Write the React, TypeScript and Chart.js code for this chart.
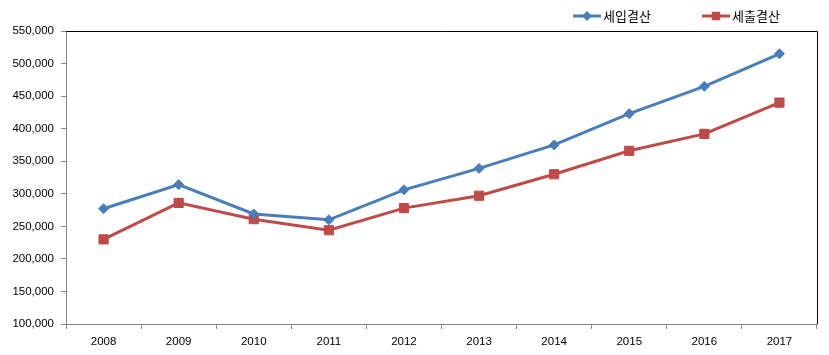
import React, { useEffect, useRef } from "react";
import { Chart, registerables } from "chart.js";

Chart.register(...registerables);

const years = ["2008", "2009", "2010", "2011", "2012", "2013", "2014", "2015", "2016", "2017"];
const revenue = [277000, 314000, 269000, 260000, 306000, 339000, 375000, 423000, 465000, 515000];
const expenditure = [230000, 286000, 261000, 244000, 278000, 297000, 330000, 366000, 392000, 440000];
const seriesNames = ["세입결산", "세출결산"];
const yMin = 100000;
const yMax = 550000;
const yStep = 50000;

const BLUE = "#4A7EBB";
const RED = "#BE4B48";
const AXIS = "#868686";

const frameAndLegend = {
  id: "frameAndLegend",
  afterDatasetsDraw(chart: any) {
    const { ctx, chartArea } = chart;
    ctx.save();
    ctx.strokeStyle = "#000";
    ctx.lineWidth = 1;
    ctx.beginPath();
    ctx.moveTo(chartArea.left, chartArea.top + 0.5);
    ctx.lineTo(chartArea.right + 0.5, chartArea.top + 0.5);
    ctx.lineTo(chartArea.right + 0.5, chartArea.bottom);
    ctx.stroke();

    // legend
    const items = [
      { x: 573, color: BLUE, style: "rectRot", r: 5, label: chart.data.datasets[0].label },
      { x: 702, color: RED, style: "rect", r: 6, label: chart.data.datasets[1].label },
    ];
    const y = 16;
    items.forEach((it) => {
      ctx.strokeStyle = it.color;
      ctx.lineWidth = 3;
      ctx.beginPath();
      ctx.moveTo(it.x, y);
      ctx.lineTo(it.x + 28, y);
      ctx.stroke();
      ctx.fillStyle = it.color;
      const cx = it.x + 14;
      ctx.beginPath();
      if (it.style === "rect") {
        const s = Math.SQRT1_2 * it.r;
        ctx.rect(cx - s, y - s, 2 * s, 2 * s);
      } else {
        ctx.moveTo(cx, y - it.r);
        ctx.lineTo(cx + it.r, y);
        ctx.lineTo(cx, y + it.r);
        ctx.lineTo(cx - it.r, y);
        ctx.closePath();
      }
      ctx.fill();
      ctx.fillStyle = "#000";
      ctx.font = '13px "Noto Sans CJK KR", sans-serif';
      ctx.textAlign = "left";
      ctx.textBaseline = "middle";
      ctx.fillText(it.label, it.x + 30, y);
    });
    ctx.restore();
  },
};

export default function App() {
  const ref = useRef<HTMLCanvasElement>(null);
  useEffect(() => {
    if (!ref.current) return;
    const chart = new Chart(ref.current, {
      type: "line",
      data: {
        labels: years,
        datasets: [
          {
            label: seriesNames[0],
            data: revenue,
            borderColor: BLUE,
            backgroundColor: BLUE,
            borderWidth: 3,
            pointStyle: "rectRot",
            pointRadius: 5,
            pointBorderWidth: 1,
            tension: 0,
          },
          {
            label: seriesNames[1],
            data: expenditure,
            borderColor: RED,
            backgroundColor: RED,
            borderWidth: 3,
            pointStyle: "rect",
            pointRadius: 6.5,
            pointBorderWidth: 1,
            tension: 0,
          },
        ],
      },
      options: {
        responsive: false,
        animation: false,
        layout: { padding: { top: 31, right: 12, left: 0, bottom: 0 } },
        plugins: { legend: { display: false }, tooltip: { enabled: false } },
        scales: {
          x: {
            type: "category",
            offset: true,
            afterFit: (s: any) => { s.height = 31; },
            grid: { offset: true, drawOnChartArea: false, drawTicks: true, tickLength: 5, color: AXIS },
            border: { display: true, color: AXIS, width: 1 },
            ticks: {
              color: "#000",
              padding: 6,
              maxRotation: 0,
              font: { family: '"Liberation Sans", sans-serif', size: 11.5 },
            },
          },
          y: {
            min: yMin,
            max: yMax,
            afterFit: (s: any) => { s.width = 66; },
            grid: { drawOnChartArea: false, drawTicks: true, tickLength: 5, color: AXIS },
            border: { display: true, color: AXIS, width: 1 },
            ticks: {
              stepSize: yStep,
              color: "#000",
              padding: 7,
              font: { family: '"Liberation Sans", sans-serif', size: 11.5 },
              callback: (v: any) => Number(v).toLocaleString("en-US"),
            },
          },
        },
      },
      plugins: [frameAndLegend],
    });
    return () => chart.destroy();
  }, []);
  return (
    <div style={{ position: "absolute", left: 0, top: 0, width: 829, height: 355, background: "#fff" }}>
      <canvas ref={ref} width={829} height={355} />
    </div>
  );
}
